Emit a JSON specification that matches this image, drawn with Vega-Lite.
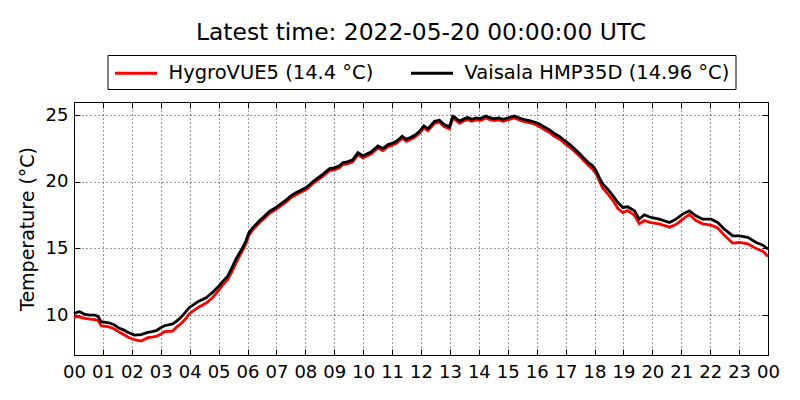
{
  "$schema": "https://vega.github.io/schema/vega-lite/v6.json",
  "autosize": "none",
  "width": 694,
  "height": 253,
  "padding": {"left": 74, "top": 102, "right": 32, "bottom": 45},
  "background": "white",
  "title": {
    "text": "Latest time: 2022-05-20 00:00:00 UTC",
    "fontSize": 23.4,
    "fontWeight": "normal",
    "anchor": "middle",
    "baseline": "alphabetic",
    "offset": -9,
    "color": "black"
  },
  "config": {
    "font": "DejaVu Sans",
    "view": {"stroke": "black", "strokeWidth": 1},
    "axis": {
      "labelFontSize": 18,
      "labelColor": "black",
      "labelFlush": false,
      "labelOverlap": false,
      "tickColor": "black",
      "tickSize": -6,
      "domain": false,
      "gridColor": "black",
      "gridDash": [1, 3],
      "gridWidth": 0.8,
      "gridOpacity": 1,
      "titleFontSize": 19,
      "titleFontWeight": "normal",
      "titleColor": "black"
    },
    "legend": {
      "orient": "none",
      "legendX": 33.5,
      "legendY": -47,
      "direction": "horizontal",
      "title": null,
      "labelFontSize": 19.5,
      "labelColor": "black",
      "labelLimit": 400,
      "symbolType": "M-1,0H3",
      "symbolSize": 441,
      "symbolStrokeWidth": 2.8,
      "labelOffset": 31,
      "columnPadding": 31,
      "padding": 6,
      "strokeColor": "black"
    }
  },
  "datasets": {
    "hygro": [
      {"t": 0, "v": 9.8}, {"t": 0.1, "v": 9.9}, {"t": 0.2, "v": 9.85}, {"t": 0.38, "v": 9.75},
      {"t": 0.55, "v": 9.7}, {"t": 0.72, "v": 9.65}, {"t": 0.83, "v": 9.6}, {"t": 0.94, "v": 9.2},
      {"t": 1.1, "v": 9.15}, {"t": 1.23, "v": 9.1}, {"t": 1.4, "v": 8.95}, {"t": 1.57, "v": 8.7},
      {"t": 1.75, "v": 8.5}, {"t": 1.86, "v": 8.35}, {"t": 2.09, "v": 8.15}, {"t": 2.32, "v": 8.05},
      {"t": 2.55, "v": 8.3}, {"t": 2.7, "v": 8.35}, {"t": 2.84, "v": 8.4}, {"t": 3.0, "v": 8.55},
      {"t": 3.13, "v": 8.75}, {"t": 3.41, "v": 8.8}, {"t": 3.55, "v": 9.1}, {"t": 3.7, "v": 9.35},
      {"t": 3.85, "v": 9.7}, {"t": 3.99, "v": 10.1}, {"t": 4.15, "v": 10.35}, {"t": 4.28, "v": 10.55},
      {"t": 4.57, "v": 10.9}, {"t": 4.79, "v": 11.3}, {"t": 5.02, "v": 11.9}, {"t": 5.15, "v": 12.3},
      {"t": 5.31, "v": 12.65}, {"t": 5.45, "v": 13.2}, {"t": 5.6, "v": 13.9}, {"t": 5.72, "v": 14.4},
      {"t": 5.83, "v": 14.85}, {"t": 5.95, "v": 15.35}, {"t": 6.05, "v": 16.0}, {"t": 6.2, "v": 16.45},
      {"t": 6.42, "v": 16.95}, {"t": 6.6, "v": 17.3}, {"t": 6.77, "v": 17.65}, {"t": 7.0, "v": 17.95},
      {"t": 7.34, "v": 18.5}, {"t": 7.5, "v": 18.8}, {"t": 7.69, "v": 19.05}, {"t": 8.03, "v": 19.43},
      {"t": 8.2, "v": 19.75}, {"t": 8.32, "v": 19.97}, {"t": 8.6, "v": 20.42}, {"t": 8.84, "v": 20.85},
      {"t": 9.0, "v": 20.9}, {"t": 9.18, "v": 21.05}, {"t": 9.3, "v": 21.3}, {"t": 9.45, "v": 21.35},
      {"t": 9.64, "v": 21.5}, {"t": 9.82, "v": 22.05}, {"t": 9.99, "v": 21.8}, {"t": 10.28, "v": 22.11},
      {"t": 10.51, "v": 22.55}, {"t": 10.68, "v": 22.35}, {"t": 10.86, "v": 22.65}, {"t": 11.0, "v": 22.75},
      {"t": 11.15, "v": 22.9}, {"t": 11.35, "v": 23.28}, {"t": 11.49, "v": 23.05}, {"t": 11.65, "v": 23.2},
      {"t": 11.78, "v": 23.35}, {"t": 11.95, "v": 23.65}, {"t": 12.1, "v": 24.05}, {"t": 12.24, "v": 23.85},
      {"t": 12.47, "v": 24.4}, {"t": 12.64, "v": 24.48}, {"t": 12.8, "v": 24.15}, {"t": 12.98, "v": 23.98},
      {"t": 13.1, "v": 24.78}, {"t": 13.2, "v": 24.65}, {"t": 13.33, "v": 24.4}, {"t": 13.5, "v": 24.6},
      {"t": 13.62, "v": 24.68}, {"t": 13.75, "v": 24.55}, {"t": 13.91, "v": 24.65}, {"t": 14.05, "v": 24.6},
      {"t": 14.25, "v": 24.8}, {"t": 14.4, "v": 24.65}, {"t": 14.54, "v": 24.6}, {"t": 14.7, "v": 24.65},
      {"t": 14.83, "v": 24.55}, {"t": 15.0, "v": 24.65}, {"t": 15.23, "v": 24.8}, {"t": 15.4, "v": 24.65},
      {"t": 15.57, "v": 24.53}, {"t": 15.75, "v": 24.45}, {"t": 15.92, "v": 24.35}, {"t": 16.1, "v": 24.15},
      {"t": 16.26, "v": 23.93}, {"t": 16.45, "v": 23.7}, {"t": 16.61, "v": 23.43}, {"t": 16.8, "v": 23.2},
      {"t": 16.95, "v": 22.93}, {"t": 17.15, "v": 22.6}, {"t": 17.3, "v": 22.3}, {"t": 17.5, "v": 21.9},
      {"t": 17.64, "v": 21.57}, {"t": 17.81, "v": 21.2}, {"t": 17.92, "v": 21.0}, {"t": 18.06, "v": 20.6},
      {"t": 18.17, "v": 20.05}, {"t": 18.29, "v": 19.5}, {"t": 18.46, "v": 19.1}, {"t": 18.64, "v": 18.6},
      {"t": 18.81, "v": 18.0}, {"t": 18.98, "v": 17.7}, {"t": 19.15, "v": 17.85}, {"t": 19.38, "v": 17.5},
      {"t": 19.55, "v": 16.85}, {"t": 19.72, "v": 17.1}, {"t": 19.95, "v": 16.95}, {"t": 20.24, "v": 16.85},
      {"t": 20.59, "v": 16.6}, {"t": 20.82, "v": 16.8}, {"t": 21.05, "v": 17.2}, {"t": 21.28, "v": 17.55},
      {"t": 21.51, "v": 17.1}, {"t": 21.74, "v": 16.85}, {"t": 22.03, "v": 16.75}, {"t": 22.26, "v": 16.55},
      {"t": 22.49, "v": 16.0}, {"t": 22.78, "v": 15.4}, {"t": 23.01, "v": 15.45}, {"t": 23.3, "v": 15.35},
      {"t": 23.59, "v": 15.0}, {"t": 23.82, "v": 14.8}, {"t": 24.0, "v": 14.4}
    ],
    "vaisala": [
      {"t": 0, "v": 10.1}, {"t": 0.1, "v": 10.2}, {"t": 0.2, "v": 10.25}, {"t": 0.38, "v": 10.05},
      {"t": 0.55, "v": 10.0}, {"t": 0.72, "v": 10.0}, {"t": 0.83, "v": 9.9}, {"t": 0.94, "v": 9.5},
      {"t": 1.1, "v": 9.45}, {"t": 1.23, "v": 9.4}, {"t": 1.4, "v": 9.25}, {"t": 1.57, "v": 9.0},
      {"t": 1.75, "v": 8.85}, {"t": 1.86, "v": 8.7}, {"t": 2.09, "v": 8.5}, {"t": 2.32, "v": 8.53},
      {"t": 2.55, "v": 8.7}, {"t": 2.7, "v": 8.75}, {"t": 2.84, "v": 8.83}, {"t": 3.0, "v": 9.05},
      {"t": 3.13, "v": 9.2}, {"t": 3.41, "v": 9.33}, {"t": 3.55, "v": 9.55}, {"t": 3.7, "v": 9.83},
      {"t": 3.85, "v": 10.2}, {"t": 3.99, "v": 10.57}, {"t": 4.15, "v": 10.8}, {"t": 4.28, "v": 11.0},
      {"t": 4.57, "v": 11.3}, {"t": 4.79, "v": 11.7}, {"t": 5.02, "v": 12.2}, {"t": 5.15, "v": 12.55},
      {"t": 5.31, "v": 12.9}, {"t": 5.45, "v": 13.5}, {"t": 5.6, "v": 14.2}, {"t": 5.72, "v": 14.65},
      {"t": 5.83, "v": 15.05}, {"t": 5.95, "v": 15.6}, {"t": 6.05, "v": 16.2}, {"t": 6.2, "v": 16.6},
      {"t": 6.42, "v": 17.1}, {"t": 6.6, "v": 17.45}, {"t": 6.77, "v": 17.8}, {"t": 7.0, "v": 18.1},
      {"t": 7.34, "v": 18.65}, {"t": 7.5, "v": 18.95}, {"t": 7.69, "v": 19.2}, {"t": 8.03, "v": 19.58},
      {"t": 8.2, "v": 19.9}, {"t": 8.32, "v": 20.12}, {"t": 8.6, "v": 20.57}, {"t": 8.84, "v": 21.0},
      {"t": 9.0, "v": 21.05}, {"t": 9.18, "v": 21.2}, {"t": 9.3, "v": 21.45}, {"t": 9.45, "v": 21.5},
      {"t": 9.64, "v": 21.65}, {"t": 9.82, "v": 22.2}, {"t": 9.99, "v": 21.95}, {"t": 10.28, "v": 22.26},
      {"t": 10.51, "v": 22.7}, {"t": 10.68, "v": 22.5}, {"t": 10.86, "v": 22.8}, {"t": 11.0, "v": 22.9},
      {"t": 11.15, "v": 23.05}, {"t": 11.35, "v": 23.43}, {"t": 11.49, "v": 23.2}, {"t": 11.65, "v": 23.35},
      {"t": 11.78, "v": 23.5}, {"t": 11.95, "v": 23.8}, {"t": 12.1, "v": 24.2}, {"t": 12.24, "v": 24.0},
      {"t": 12.47, "v": 24.55}, {"t": 12.64, "v": 24.63}, {"t": 12.8, "v": 24.3}, {"t": 12.98, "v": 24.13},
      {"t": 13.1, "v": 24.93}, {"t": 13.2, "v": 24.8}, {"t": 13.33, "v": 24.55}, {"t": 13.5, "v": 24.75},
      {"t": 13.62, "v": 24.83}, {"t": 13.75, "v": 24.7}, {"t": 13.91, "v": 24.8}, {"t": 14.05, "v": 24.75},
      {"t": 14.25, "v": 24.95}, {"t": 14.4, "v": 24.8}, {"t": 14.54, "v": 24.75}, {"t": 14.7, "v": 24.8},
      {"t": 14.83, "v": 24.7}, {"t": 15.0, "v": 24.8}, {"t": 15.23, "v": 24.95}, {"t": 15.4, "v": 24.8},
      {"t": 15.57, "v": 24.68}, {"t": 15.75, "v": 24.6}, {"t": 15.92, "v": 24.5}, {"t": 16.1, "v": 24.35},
      {"t": 16.26, "v": 24.13}, {"t": 16.45, "v": 23.9}, {"t": 16.61, "v": 23.63}, {"t": 16.8, "v": 23.4},
      {"t": 16.95, "v": 23.13}, {"t": 17.15, "v": 22.8}, {"t": 17.3, "v": 22.5}, {"t": 17.5, "v": 22.1},
      {"t": 17.64, "v": 21.77}, {"t": 17.81, "v": 21.4}, {"t": 17.92, "v": 21.25}, {"t": 18.06, "v": 20.83},
      {"t": 18.17, "v": 20.3}, {"t": 18.29, "v": 19.83}, {"t": 18.46, "v": 19.45}, {"t": 18.64, "v": 18.95},
      {"t": 18.81, "v": 18.45}, {"t": 18.98, "v": 18.08}, {"t": 19.15, "v": 18.13}, {"t": 19.38, "v": 17.83},
      {"t": 19.55, "v": 17.2}, {"t": 19.72, "v": 17.53}, {"t": 19.95, "v": 17.33}, {"t": 20.24, "v": 17.2},
      {"t": 20.59, "v": 16.95}, {"t": 20.82, "v": 17.2}, {"t": 21.05, "v": 17.58}, {"t": 21.28, "v": 17.83},
      {"t": 21.51, "v": 17.45}, {"t": 21.74, "v": 17.2}, {"t": 22.03, "v": 17.2}, {"t": 22.26, "v": 16.95},
      {"t": 22.49, "v": 16.45}, {"t": 22.78, "v": 15.95}, {"t": 23.01, "v": 15.95}, {"t": 23.3, "v": 15.83},
      {"t": 23.59, "v": 15.45}, {"t": 23.82, "v": 15.25}, {"t": 24.0, "v": 14.96}
    ]
  },
  "layer": [
    {
      "data": {"name": "hygro"},
      "mark": {"type": "line", "strokeWidth": 2.8},
      "encoding": {
        "x": {
          "field": "t",
          "type": "quantitative",
          "scale": {"domain": [0, 24], "nice": false, "zero": false},
          "axis": {
            "orient": "bottom",
            "title": null,
            "values": [0, 1, 2, 3, 4, 5, 6, 7, 8, 9, 10, 11, 12, 13, 14, 15, 16, 17, 18, 19, 20, 21, 22, 23, 24],
            "labelExpr": "(datum.value % 24 < 10 ? '0' : '') + (datum.value % 24)",
            "labelPadding": 14,
            "grid": true
          }
        },
        "y": {
          "field": "v",
          "type": "quantitative",
          "scale": {"domain": [7, 26], "nice": false, "zero": false},
          "axis": {
            "orient": "left",
            "title": "Temperature (°C)",
            "values": [10, 15, 20, 25],
            "labelPadding": 12,
            "titlePadding": 8,
            "grid": true
          }
        },
        "color": {
          "datum": "HygroVUE5 (14.4 °C)",
          "scale": {
            "domain": ["HygroVUE5 (14.4 °C)", "Vaisala HMP35D (14.96 °C)"],
            "range": ["#ff0000", "#000000"]
          }
        }
      }
    },
    {
      "data": {"name": "vaisala"},
      "mark": {"type": "line", "strokeWidth": 2.8},
      "encoding": {
        "x": {
          "field": "t",
          "type": "quantitative",
          "axis": {
            "orient": "top",
            "title": null,
            "labels": false,
            "grid": false,
            "values": [0, 1, 2, 3, 4, 5, 6, 7, 8, 9, 10, 11, 12, 13, 14, 15, 16, 17, 18, 19, 20, 21, 22, 23, 24]
          }
        },
        "y": {
          "field": "v",
          "type": "quantitative",
          "axis": {
            "orient": "right",
            "title": null,
            "labels": false,
            "grid": false,
            "values": [10, 15, 20, 25]
          }
        },
        "color": {"datum": "Vaisala HMP35D (14.96 °C)"}
      }
    }
  ],
  "resolve": {"axis": {"x": "independent", "y": "independent"}}
}
